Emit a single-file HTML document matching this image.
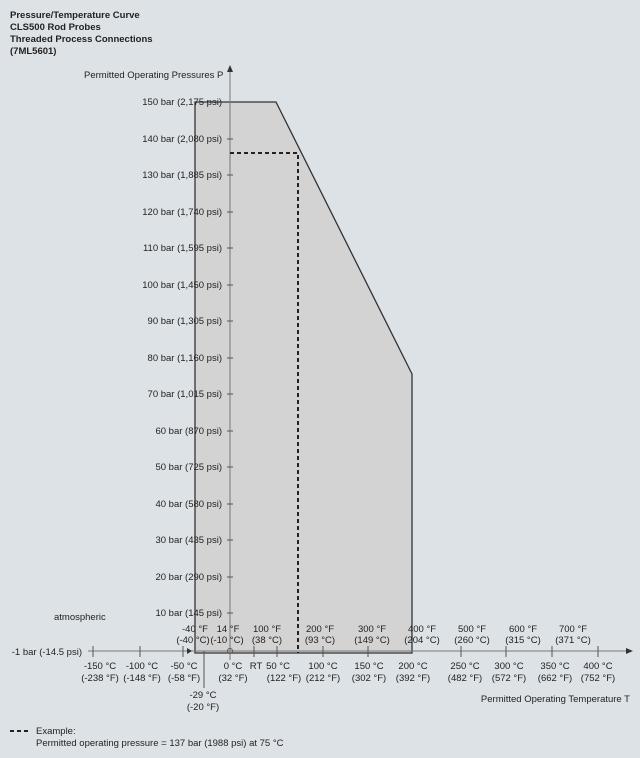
<!DOCTYPE html>
<html><head><style>
body{margin:0;background:#dde2e6;}
svg{display:block;font-family:"Liberation Sans",Arial,sans-serif;font-size:9.5px;fill:#222;}
</style></head><body>
<svg width="640" height="758" viewBox="0 0 640 758">
<rect width="640" height="758" fill="#dde2e6"/>
<g font-weight="bold" font-size="9.5">
<text x="10" y="18">Pressure/Temperature Curve</text>
<text x="10" y="30">CLS500 Rod Probes</text>
<text x="10" y="42">Threaded Process Connections</text>
<text x="10" y="54">(7ML5601)</text>
</g>
<text x="84" y="78">Permitted Operating Pressures P</text>
<polygon points="195,102 276,102 412,374 412,653 195,653" fill="#d3d3d3" stroke="#333" stroke-width="1.3"/>
<line x1="230" y1="70" x2="230" y2="660" stroke="#777" stroke-width="1"/>
<polygon points="227,72 233,72 230,65" fill="#333"/>
<line x1="88" y1="651" x2="628" y2="651" stroke="#777" stroke-width="1"/>
<polygon points="626,648 626,654 633,651" fill="#333"/>
<polygon points="187,648 187,654 192,651" fill="#333"/>
<polyline points="230,153 298,153 298,653" fill="none" stroke="#222" stroke-width="2" stroke-dasharray="4,3"/>
<g text-anchor="end">
<text x="222" y="105">150 bar (2,175 psi)</text>
<text x="222" y="142">140 bar (2,080 psi)</text>
<text x="222" y="178">130 bar (1,885 psi)</text>
<text x="222" y="215">120 bar (1,740 psi)</text>
<text x="222" y="251">110 bar (1,595 psi)</text>
<text x="222" y="288">100 bar (1,450 psi)</text>
<text x="222" y="324">90 bar (1,305 psi)</text>
<text x="222" y="361">80 bar (1,160 psi)</text>
<text x="222" y="397">70 bar (1,015 psi)</text>
<text x="222" y="434">60 bar (870 psi)</text>
<text x="222" y="470">50 bar (725 psi)</text>
<text x="222" y="507">40 bar (580 psi)</text>
<text x="222" y="543">30 bar (435 psi)</text>
<text x="222" y="580">20 bar (290 psi)</text>
<text x="222" y="616">10 bar (145 psi)</text>
<text x="82" y="655">-1 bar (-14.5 psi)</text>
</g>
<text x="54" y="620">atmospheric</text>
<g stroke="#555">
<line x1="227" y1="139" x2="233" y2="139"/><line x1="227" y1="175" x2="233" y2="175"/><line x1="227" y1="212" x2="233" y2="212"/><line x1="227" y1="248" x2="233" y2="248"/><line x1="227" y1="285" x2="233" y2="285"/><line x1="227" y1="321" x2="233" y2="321"/><line x1="227" y1="358" x2="233" y2="358"/><line x1="227" y1="394" x2="233" y2="394"/><line x1="227" y1="431" x2="233" y2="431"/><line x1="227" y1="467" x2="233" y2="467"/><line x1="227" y1="504" x2="233" y2="504"/><line x1="227" y1="540" x2="233" y2="540"/><line x1="227" y1="577" x2="233" y2="577"/><line x1="227" y1="613" x2="233" y2="613"/>
<line x1="93" y1="646" x2="93" y2="657"/><line x1="140" y1="646" x2="140" y2="657"/><line x1="183" y1="646" x2="183" y2="657"/><line x1="254" y1="646" x2="254" y2="657"/><line x1="277" y1="646" x2="277" y2="657"/><line x1="323" y1="646" x2="323" y2="657"/><line x1="368" y1="646" x2="368" y2="657"/><line x1="461" y1="646" x2="461" y2="657"/><line x1="506" y1="646" x2="506" y2="657"/><line x1="552" y1="646" x2="552" y2="657"/><line x1="598" y1="646" x2="598" y2="657"/>
<line x1="204" y1="651" x2="204" y2="688"/>
</g>
<circle cx="230" cy="651" r="2.5" fill="none" stroke="#555"/>
<g text-anchor="middle">
<text x="100" y="669">-150 °C</text><text x="100" y="681">(-238 °F)</text>
<text x="142" y="669">-100 °C</text><text x="142" y="681">(-148 °F)</text>
<text x="184" y="669">-50 °C</text><text x="184" y="681">(-58 °F)</text>
<text x="233" y="669">0 °C</text><text x="233" y="681">(32 °F)</text>
<text x="256" y="669">RT</text>
<text x="278" y="669">50 °C</text><text x="284" y="681">(122 °F)</text>
<text x="323" y="669">100 °C</text><text x="323" y="681">(212 °F)</text>
<text x="369" y="669">150 °C</text><text x="369" y="681">(302 °F)</text>
<text x="413" y="669">200 °C</text><text x="413" y="681">(392 °F)</text>
<text x="465" y="669">250 °C</text><text x="465" y="681">(482 °F)</text>
<text x="509" y="669">300 °C</text><text x="509" y="681">(572 °F)</text>
<text x="555" y="669">350 °C</text><text x="555" y="681">(662 °F)</text>
<text x="598" y="669">400 °C</text><text x="598" y="681">(752 °F)</text>
<text x="203" y="698">-29 °C</text><text x="203" y="710">(-20 °F)</text>
<text x="195" y="632">-40 °F</text><text x="193" y="643">(-40 °C)</text>
<text x="228" y="632">14 °F</text><text x="227" y="643">(-10 °C)</text>
<text x="267" y="632">100 °F</text><text x="267" y="643">(38 °C)</text>
<text x="320" y="632">200 °F</text><text x="320" y="643">(93 °C)</text>
<text x="372" y="632">300 °F</text><text x="372" y="643">(149 °C)</text>
<text x="422" y="632">400 °F</text><text x="422" y="643">(204 °C)</text>
<text x="472" y="632">500 °F</text><text x="472" y="643">(260 °C)</text>
<text x="523" y="632">600 °F</text><text x="523" y="643">(315 °C)</text>
<text x="573" y="632">700 °F</text><text x="573" y="643">(371 °C)</text>
</g>
<text x="630" y="702" text-anchor="end">Permitted Operating Temperature T</text>
<line x1="10" y1="731" x2="30" y2="731" stroke="#222" stroke-width="2" stroke-dasharray="4,3"/>
<text x="36" y="734">Example:</text>
<text x="36" y="746">Permitted operating pressure = 137 bar (1988 psi) at 75 °C</text>
</svg>
</body></html>
